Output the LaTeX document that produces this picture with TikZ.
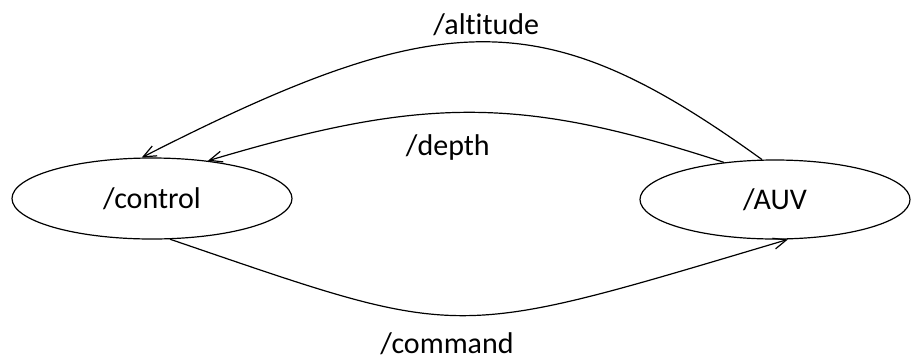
\documentclass[tikz,border=0pt]{standalone}
\usepackage{fontspec}
\setmainfont{Carlito}[Ligatures=NoCommon]
\usetikzlibrary{arrows.meta,shapes.geometric}
\begin{document}
\begin{tikzpicture}[x=1pt,y=-1pt,
  topic/.style={draw, line width=1.2pt, ellipse, inner sep=0pt, font=\fontsize{30}{36}\selectfont},
  conn/.style={line width=1.2pt, -{Straight Barb[length=13pt,width=11pt,line width=1.2pt]}},
  lbl/.style={font=\fontsize{30}{36}\selectfont, inner sep=0pt}]
\useasboundingbox (0,0) rectangle (911,360);
\node[topic, minimum width=280pt, minimum height=81pt] (ctrl) at (152,198.5) {\raisebox{-3pt}{/control}};
\node[topic, minimum width=270pt, minimum height=79pt] (auv) at (775,199.5) {\raisebox{-2pt}{/AUV}};
\draw[conn] (auv.108) .. controls (545,3) and (445,3) .. (ctrl.104)
  node[lbl, pos=0.5, above=6pt, xshift=2pt] (altl) {/altitude};
\draw[conn] (auv.144) .. controls (520,96) and (425,96) .. (ctrl.34)
  node[lbl, pos=0.5, below=22pt, xshift=-23pt] (depl) {/depth};
\draw[conn] (ctrl.294) .. controls (468,341) and (446,341) .. (auv.288)
  node[lbl, pos=0.49, below=16.5pt, xshift=-11pt] (cmdl) {/command};
\end{tikzpicture}
\end{document}
